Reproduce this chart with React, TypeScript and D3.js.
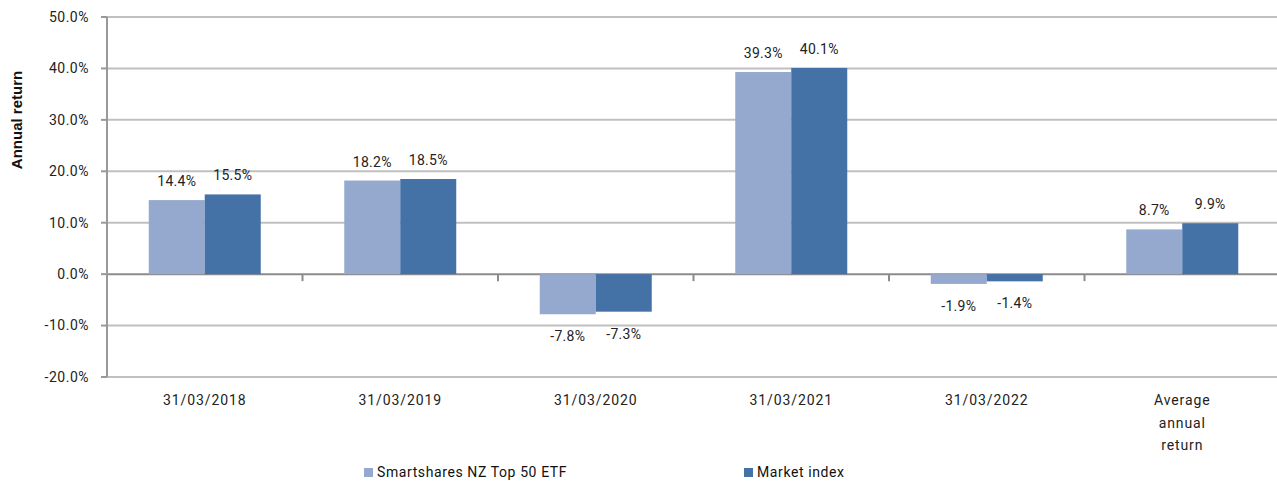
import React from "react";
import * as d3 from "d3";

const categories: string[][] = [
  ["31/03/2018"],
  ["31/03/2019"],
  ["31/03/2020"],
  ["31/03/2021"],
  ["31/03/2022"],
  ["Average", "annual", "return"],
];
const seriesNames = ["Smartshares NZ Top 50 ETF", "Market index"];
const etfValues = [14.4, 18.2, -7.8, 39.3, -1.9, 8.7];
const marketValues = [15.5, 18.5, -7.3, 40.1, -1.4, 9.9];
const yTicks = [-20, -10, 0, 10, 20, 30, 40, 50];
const colors = ["#95a9cf", "#4472a7"];

const W = 1277;
const H = 482;
const left = 107;
const right = 1280;
const top = 17;
const bottom = 377;
const groupW = 112;
const FONT = "Roboto, 'Noto Sans', Arial, sans-serif";

const pct = (v: number) => d3.format(".1f")(v).replace("\u2212", "-") + "%";

export default function App() {
  const keys = categories.map((c) => c.join(" "));
  const x0 = d3.scaleBand<string>().domain(keys).range([left, right]).padding(0);
  const bw = x0.bandwidth();
  const x1 = d3
    .scaleBand<string>()
    .domain(seriesNames)
    .range([bw / 2 - groupW / 2, bw / 2 + groupW / 2])
    .padding(0);
  const y = d3.scaleLinear().domain([-20, 50]).range([bottom, top]);
  const series = [etfValues, marketValues];
  const y0 = y(0);

  return (
    <svg
      width={W}
      height={H}
      style={{ position: "absolute", left: 0, top: 0, background: "#fff" }}
      fontFamily={FONT}
    >
      {yTicks.map((t) => (
        <line
          key={"g" + t}
          x1={left}
          x2={right}
          y1={y(t)}
          y2={y(t)}
          stroke={t === 0 ? "#8c8c8c" : "#c0c0c0"}
          strokeWidth={2}
        />
      ))}
      <line x1={left} x2={left} y1={top} y2={bottom} stroke="#999" strokeWidth={2} />
      {yTicks.map((t) => (
        <g key={"t" + t}>
          <line x1={left - 6} x2={left} y1={y(t)} y2={y(t)} stroke="#999" strokeWidth={2} />
          <text
            x={89}
            y={y(t)}
            dy="0.35em"
            textAnchor="end"
            fontSize={14}
            letterSpacing={0.5}
            fill="#222"
          >
            {pct(t)}
          </text>
        </g>
      ))}
      <text
        transform={`translate(22,120) rotate(-90)`}
        textAnchor="middle"
        fontSize={15}
        fontWeight="bold"
        fill="#111"
        fontFamily="'Liberation Sans', Arial, sans-serif"
      >
        Annual return
      </text>
      {keys.map((k, i) =>
        i === 0 ? null : (
          <line
            key={"ct" + k}
            x1={x0(k)!}
            x2={x0(k)!}
            y1={y0}
            y2={y0 + 7}
            stroke="#8c8c8c"
            strokeWidth={2}
          />
        )
      )}
      {keys.map((k, i) => (
        <g key={"b" + k} transform={`translate(${x0(k)},0)`}>
          {seriesNames.map((s, j) => {
            const v = series[j][i];
            const bx = x1(s)!;
            const yt = Math.min(y(v), y0);
            const h = Math.abs(y(v) - y0);
            return (
              <g key={s}>
                <rect x={bx} y={yt} width={x1.bandwidth()} height={h} fill={colors[j]} />
                <text
                  x={bx + x1.bandwidth() / 2}
                  y={v >= 0 ? y(v) - 14 : y(v) + 27}
                  textAnchor="middle"
                  fontSize={14}
                  letterSpacing={0.3}
                  fill="#222"
                >
                  {pct(v)}
                </text>
              </g>
            );
          })}
        </g>
      ))}
      {categories.map((c, i) => (
        <text
          key={"cl" + i}
          x={x0(keys[i])! + bw / 2}
          y={405}
          textAnchor="middle"
          fontSize={14}
          letterSpacing={0.9}
          fill="#222"
        >
          {c.map((line, li) => (
            <tspan key={li} x={x0(keys[i])! + bw / 2} dy={li === 0 ? 0 : 22.5}>
              {line}
            </tspan>
          ))}
        </text>
      ))}
      {seriesNames.map((s, j) => {
        const lx = j === 0 ? 364 : 744;
        return (
          <g key={"l" + s}>
            <rect x={lx} y={468} width={9} height={9} fill={colors[j]} />
            <text x={lx + 13} y={477} fontSize={14} letterSpacing={0.6} fill="#111">
              {s}
            </text>
          </g>
        );
      })}
    </svg>
  );
}
